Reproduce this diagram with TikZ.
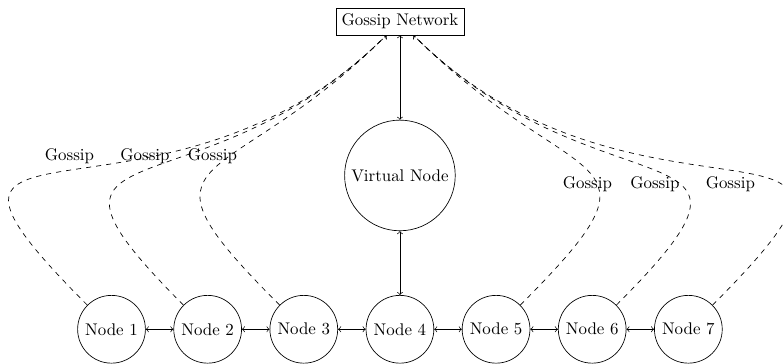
\documentclass[tikz,border=0pt]{standalone}
\usepackage{tikz}
\usetikzlibrary{calc}

\begin{document}
\begin{tikzpicture}[
  peer/.style={draw,circle},
  gossipedge/.style={->,dashed,looseness=2}
]
\useasboundingbox (-8.32,-0.71) rectangle (7.99,6.85);

% Gossip network box
\node[draw,rectangle] (gossip) at (0,6.4) {Gossip Network};

% Virtual node
\node[peer] (virtual) at (0,3.2) {Virtual Node};

% Nodes
\node[peer] (node1) at (-6,0) {Node 1};
\node[peer] (node2) at (-4,0) {Node 2};
\node[peer] (node3) at (-2,0) {Node 3};
\node[peer] (node4) at (0,0) {Node 4};
\node[peer] (node5) at (2,0) {Node 5};
\node[peer] (node6) at (4,0) {Node 6};
\node[peer] (node7) at (6,0) {Node 7};

% Neighbour links
\draw[<->] (node1) -- (node2);
\draw[<->] (node2) -- (node3);
\draw[<->] (node3) -- (node4);
\draw[<->] (node4) -- (node5);
\draw[<->] (node5) -- (node6);
\draw[<->] (node6) -- (node7);

% Virtual node links
\draw[<->] (gossip) -- (virtual);
\draw[<->] (virtual) -- (node4);

% Gossip links
\draw[gossipedge] (node1) to[out=135,in=225] node[above] {Gossip} (gossip);
\draw[gossipedge] (node2) to[out=135,in=225] node[above] {Gossip} (gossip);
\draw[gossipedge] (node3) to[out=135,in=225] node[above] {Gossip} (gossip);
\draw[gossipedge] (node5) to[out=45,in=-45] node[below] {Gossip} (gossip);
\draw[gossipedge] (node6) to[out=45,in=-45] node[below] {Gossip} (gossip);
\draw[gossipedge] (node7) to[out=45,in=-45] node[below] {Gossip} (gossip);
\end{tikzpicture}
\end{document}
